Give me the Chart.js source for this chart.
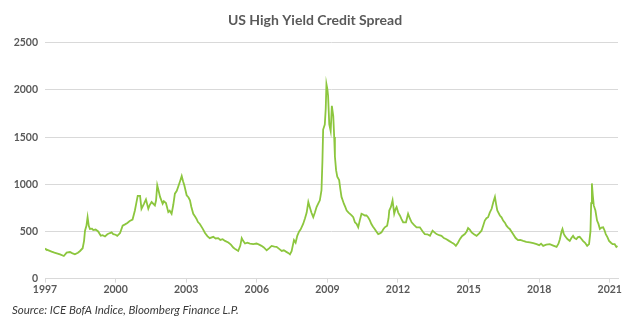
<!DOCTYPE html>
<html>
<head>
<meta charset="utf-8">
<script src="https://cdn.jsdelivr.net/npm/chart.js@4/dist/chart.umd.min.js"></script>
<style>
  html, body { margin: 0; padding: 0; background: #fff; }
  #wrap { width: 633px; height: 322px; position: relative; }
</style>
</head>
<body>
<div id="wrap"><canvas id="myChart"></canvas></div>
<script>
// Data (decimal year, spread in bp)
const years = [
  1997.00, 1997.04, 1997.15, 1997.28, 1997.40, 1997.50, 1997.64, 1997.80, 1997.92, 1998.06,
  1998.15, 1998.27, 1998.40, 1998.49, 1998.60, 1998.66, 1998.70, 1998.76, 1998.81, 1998.86,
  1998.91, 1999.00, 1999.05, 1999.15, 1999.26, 1999.37, 1999.45, 1999.55, 1999.65, 1999.76,
  1999.83, 1999.90, 2000.00, 2000.07, 2000.19, 2000.30, 2000.40, 2000.50, 2000.60, 2000.72,
  2000.82, 2000.88, 2000.94, 2001.04, 2001.10, 2001.20, 2001.29, 2001.39, 2001.45, 2001.53,
  2001.67, 2001.72, 2001.77, 2001.82, 2001.89, 2002.00, 2002.05, 2002.14, 2002.24, 2002.30,
  2002.38, 2002.45, 2002.52, 2002.60, 2002.66, 2002.75, 2002.81, 2002.87, 2002.92, 2003.02,
  2003.10, 2003.16, 2003.22, 2003.30, 2003.37, 2003.44, 2003.50, 2003.58, 2003.70, 2003.80,
  2003.90, 2004.00, 2004.15, 2004.25, 2004.36, 2004.45, 2004.55, 2004.65, 2004.79, 2004.90,
  2005.00, 2005.10, 2005.21, 2005.30, 2005.36, 2005.42, 2005.50, 2005.60, 2005.71, 2005.85,
  2005.99, 2006.10, 2006.20, 2006.30, 2006.42, 2006.52, 2006.63, 2006.75, 2006.84, 2006.95,
  2007.06, 2007.15, 2007.24, 2007.35, 2007.41, 2007.48, 2007.58, 2007.65, 2007.72, 2007.80,
  2007.86, 2007.97, 2008.05, 2008.12, 2008.19, 2008.25, 2008.32, 2008.40, 2008.47, 2008.54,
  2008.62, 2008.68, 2008.75, 2008.79, 2008.82, 2008.89, 2008.93, 2008.96, 2009.00, 2009.03,
  2009.08, 2009.14, 2009.19, 2009.25, 2009.29, 2009.32, 2009.37, 2009.42, 2009.50, 2009.55,
  2009.60, 2009.65, 2009.70, 2009.76, 2009.82, 2009.90, 2009.96, 2010.03, 2010.10, 2010.17,
  2010.24, 2010.31, 2010.38, 2010.45, 2010.52, 2010.59, 2010.66, 2010.73, 2010.80, 2010.87,
  2010.94, 2011.01, 2011.08, 2011.16, 2011.23, 2011.30, 2011.37, 2011.44, 2011.54, 2011.60,
  2011.63, 2011.70, 2011.77, 2011.84, 2011.90, 2011.94, 2012.01, 2012.08, 2012.15, 2012.22,
  2012.34, 2012.43, 2012.50, 2012.58, 2012.68, 2012.79, 2012.93, 2013.05, 2013.14, 2013.25,
  2013.36, 2013.47, 2013.55, 2013.64, 2013.75, 2013.85, 2013.95, 2014.06, 2014.17, 2014.28,
  2014.37, 2014.46, 2014.55, 2014.63, 2014.72, 2014.84, 2014.92, 2014.98, 2015.05, 2015.13,
  2015.23, 2015.34, 2015.45, 2015.55, 2015.62, 2015.69, 2015.76, 2015.83, 2015.90, 2015.98,
  2016.05, 2016.12, 2016.17, 2016.22, 2016.33, 2016.40, 2016.47, 2016.55, 2016.61, 2016.68,
  2016.75, 2016.82, 2016.89, 2017.00, 2017.10, 2017.20, 2017.32, 2017.45, 2017.60, 2017.75,
  2017.89, 2018.00, 2018.08, 2018.17, 2018.30, 2018.45, 2018.60, 2018.74, 2018.82, 2018.88,
  2018.95, 2018.99, 2019.04, 2019.09, 2019.20, 2019.30, 2019.37, 2019.44, 2019.50, 2019.58,
  2019.65, 2019.72, 2019.80, 2019.86, 2019.95, 2020.04, 2020.12, 2020.18, 2020.21, 2020.24,
  2020.28, 2020.32, 2020.39, 2020.46, 2020.52, 2020.58, 2020.65, 2020.72, 2020.78, 2020.83,
  2020.90, 2020.97, 2021.05, 2021.12, 2021.21, 2021.28, 2021.33
];
const spreads = [
  320, 311, 300, 286, 275, 268, 257, 240, 276, 282,
  270, 257, 275, 293, 322, 400, 508, 560, 651, 560,
  526, 530, 515, 520, 500, 454, 460, 447, 470, 483,
  490, 472, 465, 454, 483, 561, 575, 590, 610, 626,
  722, 800, 877, 877, 740, 790, 840, 740, 780, 812,
  776, 830, 990, 940, 866, 794, 820, 801, 705, 720,
  687, 780, 901, 930, 973, 1040, 1087, 1030, 990, 883,
  860, 829, 760, 687, 660, 633, 600, 579, 530, 483,
  450, 429, 443, 425, 429, 410, 418, 400, 383, 360,
  329, 310, 293, 350, 429, 400, 372, 380, 372, 365,
  372, 360, 347, 330, 300, 320, 347, 340, 336, 315,
  293, 300, 286, 270, 257, 290, 408, 380, 454, 500,
  520, 579, 640, 700, 812, 760, 700, 651, 700, 758,
  800, 830, 937, 1250, 1580, 1634, 1800, 2063, 2010, 1939,
  1634, 1563, 1832, 1724, 1500, 1295, 1150, 1080, 1044, 950,
  866, 830, 794, 760, 722, 700, 687, 670, 651, 597,
  580, 544, 620, 687, 680, 669, 670, 651, 620, 579,
  550, 526, 500, 472, 480, 490, 520, 544, 561, 640,
  722, 760, 830, 687, 740, 758, 700, 669, 630, 597,
  597, 687, 640, 597, 570, 544, 544, 500, 472, 470,
  454, 508, 490, 472, 460, 454, 430, 418, 400, 383,
  370, 347, 380, 418, 450, 472, 500, 536, 520, 490,
  470, 454, 480, 508, 560, 615, 640, 651, 700, 740,
  810, 866, 790, 722, 669, 650, 615, 590, 561, 540,
  526, 500, 472, 430, 408, 410, 400, 390, 383, 375,
  365, 355, 370, 347, 360, 365, 350, 336, 370, 418,
  500, 526, 480, 454, 420, 400, 430, 454, 430, 418,
  440, 443, 420, 400, 380, 347, 365, 500, 800, 1009,
  880, 776, 722, 615, 580, 526, 540, 544, 510, 472,
  440, 400, 380, 365, 365, 336, 345
];
const xTicks = [1997, 2000, 2003, 2006, 2009, 2012, 2015, 2018, 2021];
const yTicks = [0, 500, 1000, 1500, 2000, 2500];

const ctx = document.querySelector("#myChart");
const gridColor = "#d9d9d9";
const labelColor = "#595959";

let spreadChart = new Chart(ctx, {
    type: 'line',
    data: {
        datasets: [
            {
                label: 'US High Yield Credit Spread',
                data: years.map((y, i) => ({ x: y, y: spreads[i] })),
                borderColor: '#8cc63e',
                borderWidth: 1.8,
                pointRadius: 0,
                tension: 0,
            },
        ]
    },
    options: {
        responsive: true,
        maintainAspectRatio: false,
        animation: false,
        layout: { padding: { left: 12, right: 15, top: 8, bottom: 5 } },
        plugins: {
            legend: { display: false },
            tooltip: { enabled: false },
            title: {
                display: true,
                text: 'US High Yield Credit Spread',
                color: labelColor,
                font: { family: 'Lato', size: 14, weight: 'bold' },
                padding: { top: 4, bottom: 14 }
            },
            subtitle: {
                display: true,
                position: 'bottom',
                align: 'start',
                text: 'Source: ICE BofA Indice, Bloomberg Finance L.P.',
                color: '#3a3a3a',
                font: { family: 'Lato', size: 11.5, style: 'italic' },
                padding: { top: 6, bottom: 0 }
            }
        },
        scales: {
            x: {
                type: 'linear',
                min: 1997,
                max: 2021.35,
                afterBuildTicks: scale => { scale.ticks = xTicks.map(v => ({ value: v })); },
                grid: { drawOnChartArea: false, drawTicks: true, tickLength: 4, color: gridColor },
                border: { display: true, color: gridColor },
                ticks: {
                    color: labelColor,
                    font: { family: 'Lato', size: 10.5, weight: 'bold' },
                    padding: 1,
                    maxRotation: 0,
                    autoSkip: false,
                    callback: value => String(value)
                }
            },
            y: {
                min: 0,
                max: 2500,
                afterBuildTicks: scale => { scale.ticks = yTicks.map(v => ({ value: v })); },
                afterFit: scale => { scale.width = 33; },
                grid: { color: gridColor, drawTicks: false },
                border: { display: false },
                ticks: {
                    color: labelColor,
                    font: { family: 'Lato', size: 10.5, weight: 'bold' },
                    padding: 7,
                    callback: value => String(value)
                }
            }
        }
    }
});
</script>
</body>
</html>
